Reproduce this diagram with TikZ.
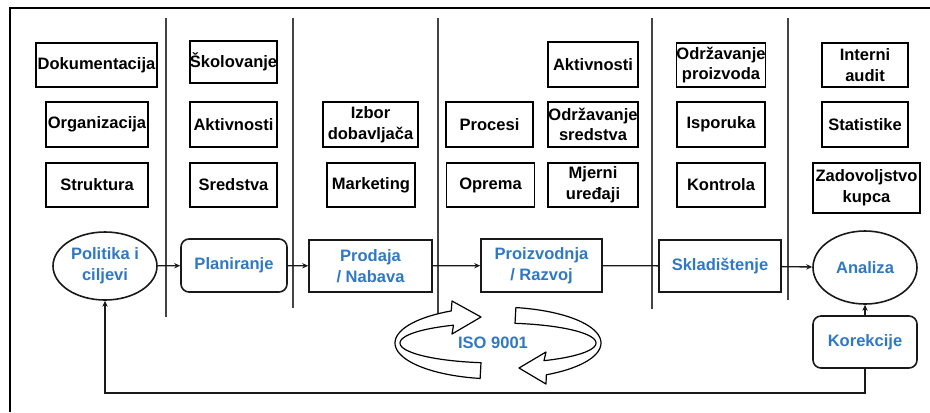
\documentclass[tikz,border=0pt]{standalone}
\usepackage{fontspec}
\setmainfont{Liberation Sans}
\usetikzlibrary{arrows.meta,shapes.geometric}
\definecolor{lblue}{HTML}{3079C2}
\definecolor{sepgray}{HTML}{444444}
\tikzset{
  sz/.style 2 args={minimum width=#1*0.75pt, minimum height=#2*0.75pt},
  txt/.style={font=\bfseries\fontsize{12.4}{15.5}\selectfont, align=center, inner sep=0pt},
  sbox/.style={txt, draw=black, line width=1.3pt, rectangle},
  mainbox/.style={txt, text=lblue, draw=black!90, line width=1.2pt, fill=white},
  sepline/.style={draw=sepgray, line width=1.5pt},
  flow/.style={draw=black!90, line width=1pt},
  tip/.style={-{Stealth[length=4.5pt,width=4pt]}},
  ring/.style={draw=black, fill=white, line width=0.9pt, line join=round}
}
\begin{document}
\begin{tikzpicture}[x=0.75pt, y=-0.75pt]
\useasboundingbox (0,0) rectangle (930,412);
% frame
\draw[line width=1.5pt] (10,412) -- (10,8) -- (930,8);
% separators
\draw[sepline] (166,18) -- (166,317);
\draw[sepline] (293,18) -- (293,308);
\draw[sepline] (438,18) -- (438,320);
\draw[sepline] (652,18) -- (652,309);
\draw[sepline] (788,18) -- (788,300);
% column 1
\node[sbox, sz={121}{44}] (dok) at (96.5,65) {Dokumentacija};
\node[sbox, sz={102}{45}] (org) at (97,124.5) {Organizacija};
\node[sbox, sz={102}{44}] (str) at (97,185) {Struktura};
% column 2
\node[sbox, sz={87}{42}] (sko) at (233.5,62) {Školovanje};
\node[sbox, sz={87}{45}] (ak1) at (233.5,124.5) {Aktivnosti};
\node[sbox, sz={87}{44}] (sre) at (233.5,185) {Sredstva};
% column 3
\node[sbox, sz={95}{45}] (izb) at (370.5,124.5) {Izbor\\dobavljača};
\node[sbox, sz={88}{44}] (mar) at (371,185) {Marketing};
% column 4
\node[sbox, sz={87}{45}] (prc) at (489.5,124.5) {Procesi};
\node[sbox, sz={88}{44}] (opr) at (490.5,185) {Oprema};
\node[sbox, sz={90}{45}] (ak2) at (593,64.5) {Aktivnosti};
\node[sbox, sz={90}{45}] (ods) at (593,124.5) {Održavanje\\sredstva};
\node[sbox, sz={90}{44}] (mje) at (593,185) {Mjerni\\uređaji};
% column 5
\node[sbox, sz={88}{44}] (odp) at (721,65) {Održavanje\\proizvoda};
\node[sbox, sz={88}{45}] (isp) at (721,124.5) {Isporuka};
\node[sbox, sz={88}{44}] (kon) at (721,185) {Kontrola};
% column 6
\node[sbox, sz={86}{44}] (int) at (865,65) {Interni\\audit};
\node[sbox, sz={86}{45}] (sta) at (865,124.5) {Statistike};
\node[sbox, sz={107}{50}] (zad) at (866.5,188) {Zadovoljstvo\\kupca};
% main flow
\node[mainbox, ellipse, inner sep=0pt, sz={104}{68}] (pol) at (105,266) {Politika i\\ciljevi};
\node[mainbox, rectangle, rounded corners=6pt, sz={106}{53}] (pla) at (234,265.5) {Planiranje};
\node[mainbox, rectangle, sz={123}{52}] (prn) at (370.5,266) {Prodaja\\/ Nabava};
\node[mainbox, rectangle, sz={121}{53}] (prz) at (541.5,265.5) {Proizvodnja\\/ Razvoj};
\node[mainbox, rectangle, sz={122}{52}] (skl) at (720,266) {Skladištenje};
\node[mainbox, ellipse, inner sep=0pt, sz={104}{73}] (ana) at (865,267.5) {Analiza};
\node[mainbox, rectangle, rounded corners=6pt, sz={104}{52}] (kor) at (865,342) {Korekcije};
% connectors
\draw[flow, tip] (pol) -- (pla);
\draw[flow, tip] (pla) -- (prn);
\draw[flow, tip] (prn) -- (prz);
\draw[flow] (prz) -- (skl);
\draw[flow, tip] (skl) -- (ana);
\draw[flow, tip] (kor) -- (ana);
\coordinate (fbr) at (865,393);
\coordinate (fbl) at (105,393);
\draw[flow, tip] (kor.south) -- (fbr) -- (fbl) -- (pol.south);
% ISO 9001 circular arrows
\filldraw[ring] plot[domain=100:243, samples=40] ({498+103*cos(\x)},{343+36*sin(\x)})
  -- (452,301) -- (481,317) -- (452,334)
  -- plot[domain=243:100, samples=40] ({498+98*cos(\x)},{343+20*sin(\x)}) -- cycle;
\filldraw[ring] plot[domain=280:422, samples=40] ({498+103*cos(\x)},{343+36*sin(\x)})
  -- (546,384) -- (519,368) -- (546,352)
  -- plot[domain=422:280, samples=40] ({498+98*cos(\x)},{343+20*sin(\x)}) -- cycle;
\node[txt, text=lblue] (iso) at (493,343) {ISO 9001};
\end{tikzpicture}
\end{document}
